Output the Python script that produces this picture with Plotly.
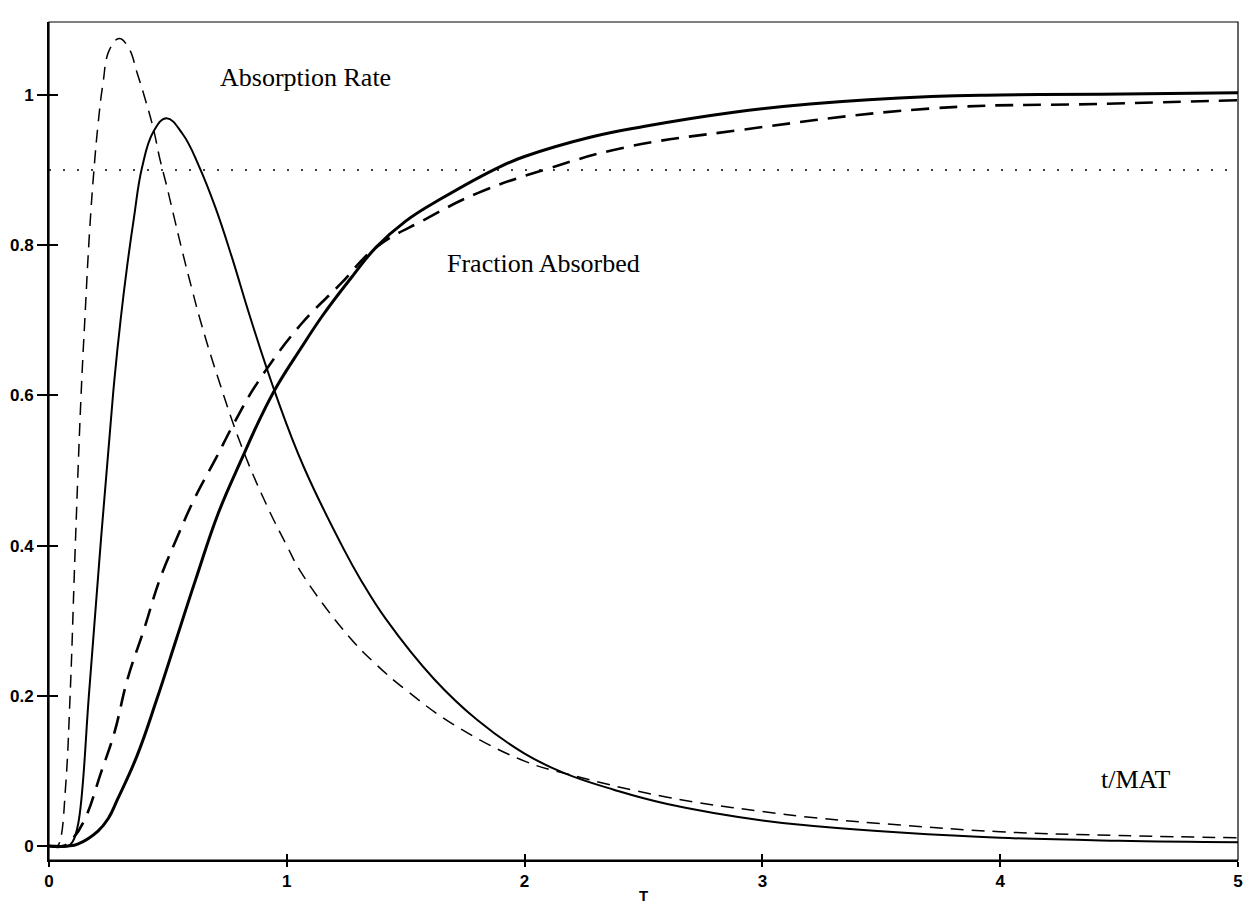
import plotly.graph_objects as go

# ---- data ----
# Absorption rate, dashed curve
rate_dash_t = [0, 0.035, 0.048, 0.07, 0.089, 0.111, 0.135, 0.151, 0.171, 0.189, 0.206, 0.226, 0.254,
               0.295, 0.336, 0.37, 0.404, 0.439, 0.466, 0.494, 0.527, 0.562, 0.604, 0.638, 0.713,
               0.81, 0.918, 1.0, 1.057, 1.25, 1.375, 1.5, 1.71, 2.0, 2.167, 2.6, 3.0, 3.21, 3.58,
               4.0, 4.5, 5.0]
rate_dash_y = [0, 0, 0.009, 0.08, 0.202, 0.404, 0.601, 0.703, 0.82, 0.900, 0.96, 1.013, 1.060,
               1.075, 1.062, 1.030, 0.995, 0.955, 0.915, 0.880, 0.836, 0.790, 0.738, 0.698, 0.621,
               0.532, 0.452, 0.40, 0.366, 0.283, 0.242, 0.208, 0.160, 0.113, 0.097, 0.065, 0.046,
               0.038, 0.028, 0.019, 0.014, 0.011]

# Absorption rate, solid curve
rate_solid_t = [0, 0.08, 0.1, 0.123, 0.17, 0.219, 0.275, 0.302, 0.329, 0.357, 0.391, 0.439, 0.494,
                0.562, 0.631, 0.70, 0.768, 0.85, 0.955, 1.071, 1.24, 1.31, 1.417, 1.62, 1.8, 2.0,
                2.167, 2.375, 2.6, 3.0, 3.24, 3.58, 4.0, 4.5, 5.0]
rate_solid_y = [0, 0, 0.006, 0.03, 0.21, 0.41, 0.621, 0.703, 0.773, 0.836, 0.903, 0.951, 0.969,
                0.948, 0.905, 0.850, 0.785, 0.700, 0.600, 0.505, 0.395, 0.355, 0.302, 0.222, 0.168,
                0.123, 0.097, 0.075, 0.056, 0.034, 0.026, 0.018, 0.011, 0.007, 0.005]

# Fraction absorbed, solid curve
frac_solid_t = [0, 0.08, 0.123, 0.206, 0.25, 0.288, 0.37, 0.453, 0.535, 0.617, 0.713, 0.81, 0.892,
                0.96, 1.058, 1.15, 1.267, 1.375, 1.5, 1.65, 1.9, 2.0, 2.28, 2.5, 2.88, 3.2, 3.71,
                4.0, 4.42, 5.0]
frac_solid_y = [0, 0, 0.003, 0.02, 0.037, 0.062, 0.12, 0.195, 0.275, 0.355, 0.444, 0.515, 0.572,
                0.613, 0.662, 0.706, 0.755, 0.797, 0.832, 0.862, 0.905, 0.918, 0.944, 0.958, 0.977,
                0.988, 0.998, 1.0, 1.001, 1.003]

# Fraction absorbed, dashed curve
frac_dash_t = [0, 0.06, 0.1, 0.151, 0.219, 0.275, 0.33, 0.40, 0.466, 0.535, 0.617, 0.70, 0.78,
               0.877, 1.058, 1.225, 1.375, 1.58, 1.8, 2.1, 2.42, 2.9, 3.71, 4.42, 5.0]
frac_dash_y = [0, 0, 0.01, 0.036, 0.098, 0.151, 0.222, 0.289, 0.355, 0.408, 0.466, 0.515, 0.564,
               0.617, 0.694, 0.748, 0.797, 0.834, 0.869, 0.902, 0.930, 0.953, 0.982, 0.988, 0.993]

# Dotted reference level
ref_t = [0, 5]
ref_y = [0.9, 0.9]

x_tick_vals = [0, 1, 2, 3, 4, 5]
x_tick_text = ["0", "1", "2", "3", "4", "5"]
y_tick_vals = [0, 0.2, 0.4, 0.6, 0.8, 1.0]
y_tick_text = ["0", "0.2", "0.4", "0.6", "0.8", "1"]

X_RANGE = [0, 5]
Y_RANGE = [-0.0186, 1.0971]

fig = go.Figure()
sm = 1.2
fig.add_trace(go.Scatter(x=rate_dash_t, y=rate_dash_y, mode="lines",
                         line=dict(color="black", width=1.5, dash="13px,8px", shape="spline", smoothing=sm)))
fig.add_trace(go.Scatter(x=rate_solid_t, y=rate_solid_y, mode="lines",
                         line=dict(color="black", width=2, shape="spline", smoothing=sm)))
fig.add_trace(go.Scatter(x=frac_dash_t, y=frac_dash_y, mode="lines",
                         line=dict(color="black", width=2.6, dash="18px,10px", shape="spline", smoothing=sm)))
fig.add_trace(go.Scatter(x=frac_solid_t, y=frac_solid_y, mode="lines",
                         line=dict(color="black", width=3, shape="spline", smoothing=sm)))
fig.add_trace(go.Scatter(x=ref_t, y=ref_y, mode="lines", xaxis="x2", yaxis="y2",
                         line=dict(color="black", width=1.6, dash="2px,12px")))

tickfont = dict(family="Liberation Sans", size=17, color="black", weight="bold")
serif = dict(family="Liberation Serif", size=26, color="black")

fig.update_layout(
    width=1248, height=907,
    margin=dict(l=49, r=5, t=22, b=46),
    paper_bgcolor="white", plot_bgcolor="white",
    showlegend=False,
    xaxis=dict(range=X_RANGE, tickvals=x_tick_vals, ticktext=x_tick_text, showgrid=False, zeroline=False,
               showline=True, linecolor="black", linewidth=2, ticks="outside", ticklen=5, tickwidth=1.5,
               tickcolor="black", tickfont=tickfont,
               title=dict(text="T", font=dict(family="Liberation Sans", size=15, color="black", weight="bold"),
                          standoff=0)),
    yaxis=dict(range=Y_RANGE, tickvals=y_tick_vals, ticktext=y_tick_text, showgrid=False, zeroline=False,
               showline=True, linecolor="black", linewidth=2, ticks="outside", ticklen=10, tickwidth=2,
               tickcolor="black", tickfont=tickfont),
    xaxis2=dict(overlaying="x", matches="x", side="bottom", anchor="y", tickvals=x_tick_vals,
                showticklabels=False, showgrid=False, zeroline=False, showline=False,
                ticks="inside", ticklen=6, tickwidth=1.5, tickcolor="black"),
    yaxis2=dict(overlaying="y", matches="y", side="left", anchor="x", tickvals=y_tick_vals,
                showticklabels=False, showgrid=False, zeroline=False, showline=False,
                ticks="inside", ticklen=9, tickwidth=2, tickcolor="black"),
    shapes=[dict(type="rect", xref="paper", yref="paper", x0=0, x1=1, y0=0, y1=1,
                 line=dict(color="black", width=1.2))],
    annotations=[
        dict(text="Absorption Rate", x=1.08, y=1.023, xref="x", yref="y", showarrow=False, font=serif),
        dict(text="Fraction Absorbed", x=2.08, y=0.775, xref="x", yref="y", showarrow=False, font=serif),
        dict(text="t/MAT", x=4.57, y=0.088, xref="x", yref="y", showarrow=False, font=serif),
    ],
)

fig.write_html("out.html")
